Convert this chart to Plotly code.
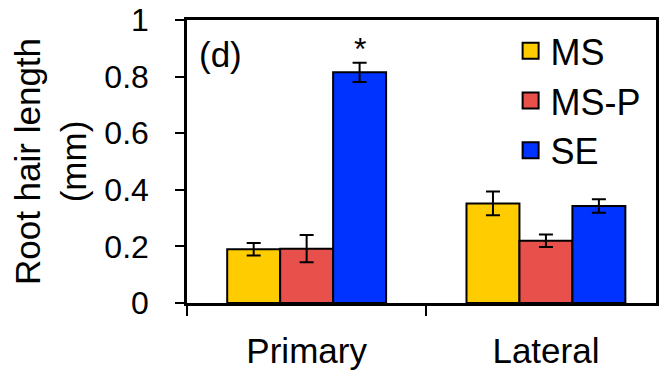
import plotly.graph_objects as go

categories = ["Primary", "Lateral"]
series_names = ["MS", "MS-P", "SE"]
ms_vals = [0.19, 0.352]
ms_err = [0.022, 0.042]
msp_vals = [0.192, 0.22]
msp_err = [0.048, 0.022]
se_vals = [0.815, 0.343]
se_err = [0.034, 0.024]
colors = ["#FFCC00", "#E8514B", "#0033FF"]
y_ticks = [0, 0.2, 0.4, 0.6, 0.8, 1]

values = [ms_vals, msp_vals, se_vals]
errors = [ms_err, msp_err, se_err]

FONT = "Liberation Sans, Arial, sans-serif"
bargap = 0.336

fig = go.Figure()
for name, v, e, c in zip(series_names, values, errors, colors):
    fig.add_trace(go.Bar(
        x=categories, y=v, name=name, showlegend=False,
        marker=dict(color=c, line=dict(color="black", width=2)),
        error_y=dict(type="data", array=e, color="black", thickness=2, width=7),
    ))
# legend entries (square swatches)
for name, c in zip(series_names, colors):
    fig.add_trace(go.Scatter(
        x=[None], y=[None], mode="markers", name=name,
        marker=dict(symbol="square", size=16, color=c, line=dict(color="black", width=2)),
    ))

bw = (1 - bargap) / 3
fig.add_annotation(x=0 + bw, y=se_vals[0] + se_err[0], xref="x", yref="y",
                   text="*", showarrow=False, yanchor="bottom", yshift=-6,
                   font=dict(size=32, family=FONT, color="black"))
fig.add_annotation(x=0.022, y=0.955, xref="paper", yref="paper", text="(d)",
                   showarrow=False, xanchor="left", yanchor="top",
                   font=dict(size=35, family=FONT, color="black"))

fig.update_layout(
    width=660, height=373,
    margin=dict(l=187, r=1, t=20, b=70, pad=0),
    plot_bgcolor="white", paper_bgcolor="white",
    barmode="group", bargap=bargap, bargroupgap=0,
    font=dict(family=FONT, color="black"),
    legend=dict(x=0.69, y=0.997, xanchor="left", yanchor="top",
                font=dict(size=36, family=FONT), itemsizing="trace",
                bgcolor="rgba(0,0,0,0)", borderwidth=0),
)
fig.update_xaxes(
    type="category", range=[-0.5, 1.46], tickson="boundaries",
    showline=True, linecolor="black", linewidth=2.5, mirror=True,
    ticks="outside", ticklen=10, tickwidth=2, tickcolor="black",
    tickfont=dict(size=35, family=FONT), showgrid=False, zeroline=False,
    ticklabelstandoff=15,
)
fig.update_yaxes(
    range=[0, 1], tickvals=y_ticks, ticktext=[f"{t:g}" for t in y_ticks],
    showline=True, linecolor="black", linewidth=2.5, mirror=True,
    ticks="outside", ticklen=9, tickwidth=2, tickcolor="black",
    tickfont=dict(size=32, family=FONT), showgrid=False, zeroline=False,
    ticklabelstandoff=20,
    title=dict(text="Root hair length<br>(mm)", font=dict(size=35, family=FONT), standoff=8),
)

fig.write_html("out.html")
